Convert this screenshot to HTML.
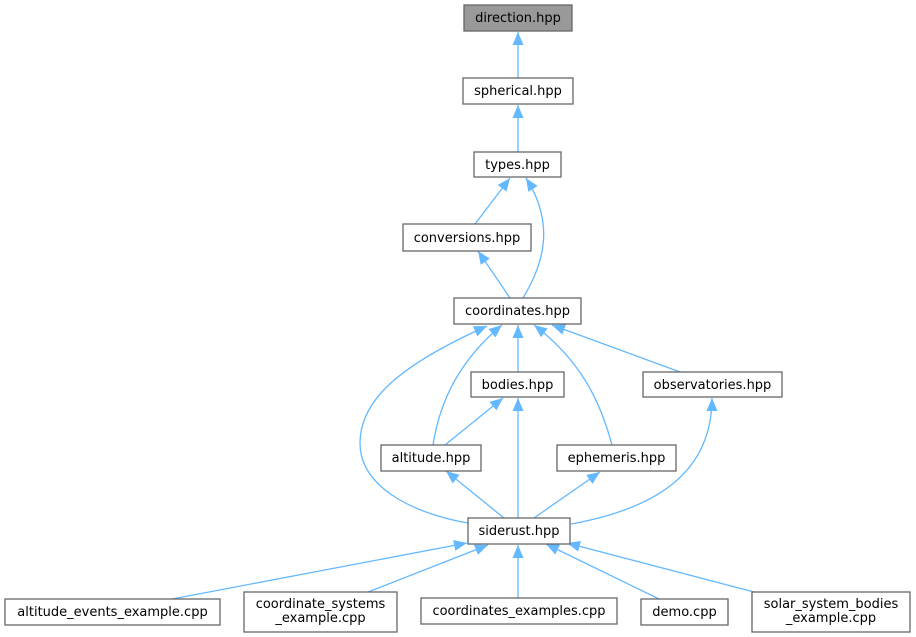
<!DOCTYPE html>
<html><head><meta charset="utf-8"><style>
html,body{margin:0;padding:0;background:#fff;}
svg{display:block;}
text{font-family:"DejaVu Sans","Liberation Sans",sans-serif;font-size:13px;fill:#000;text-anchor:middle;}
.e{fill:none;stroke:#63b8ff;stroke-width:1.3;}
.n{fill:#fff;stroke:#666;stroke-width:1.3;}
</style></head><body>
<svg width="916" height="637" viewBox="0 0 916 637" xmlns="http://www.w3.org/2000/svg">
<defs>
<marker id="a" markerUnits="userSpaceOnUse" markerWidth="14" markerHeight="12" refX="13" refY="5.5" orient="auto">
<path d="M0,0 L13,5.5 L0,11 z" fill="#63b8ff"/>
</marker>
</defs>
<g marker-end="url(#a)">
<path class="e" d="M518,78 L518,32"/>
<path class="e" d="M518,152 L518,105"/>
<path class="e" d="M475,224 L510,178"/>
<path class="e" d="M523,298 C543,265 556,225 526,178"/>
<path class="e" d="M510,298 L478,251"/>
<path class="e" d="M518,372 L518,325"/>
<path class="e" d="M433,445 C440,400 460,360 502,325"/>
<path class="e" d="M612,445 C600,400 580,360 534,325"/>
<path class="e" d="M680,372 L552,325"/>
<path class="e" d="M468,523 C420,515 360,490 360,443 C360,400 400,365 487,326"/>
<path class="e" d="M445,445 L503,398"/>
<path class="e" d="M518,518 L518,398"/>
<path class="e" d="M504,518 L446,471"/>
<path class="e" d="M534,518 L600,472"/>
<path class="e" d="M571,524 C660,508 712,470 712,398"/>
<path class="e" d="M172,599 L467,543"/>
<path class="e" d="M368,592 L488,545"/>
<path class="e" d="M518,598 L518,545"/>
<path class="e" d="M659,599 L546,544"/>
<path class="e" d="M754,592 L567,543"/>
</g>
<rect x="464" y="5" width="108" height="26" fill="#999" stroke="#666" stroke-width="1.3"/>
<text x="518" y="22">direction.hpp</text>
<rect class="n" x="463" y="78" width="110" height="26"/>
<text x="518" y="95">spherical.hpp</text>
<rect class="n" x="474" y="152" width="87" height="25"/>
<text x="517.5" y="169">types.hpp</text>
<rect class="n" x="403" y="224" width="128" height="27"/>
<text x="467" y="242">conversions.hpp</text>
<rect class="n" x="454" y="298" width="127" height="26"/>
<text x="517.5" y="315">coordinates.hpp</text>
<rect class="n" x="471" y="372" width="93" height="25"/>
<text x="517.5" y="389">bodies.hpp</text>
<rect class="n" x="643" y="372" width="139" height="25"/>
<text x="712.5" y="389">observatories.hpp</text>
<rect class="n" x="381" y="445" width="100" height="26"/>
<text x="431" y="462">altitude.hpp</text>
<rect class="n" x="557" y="445" width="119" height="26"/>
<text x="616.5" y="462">ephemeris.hpp</text>
<rect class="n" x="468" y="518" width="102" height="26"/>
<text x="519" y="535">siderust.hpp</text>
<rect class="n" x="5" y="599" width="215" height="26"/>
<text x="112.5" y="616">altitude_events_example.cpp</text>
<rect class="n" x="244" y="592" width="153" height="40"/>
<text x="320.5" y="608">coordinate_systems</text>
<text x="320.5" y="622">_example.cpp</text>
<rect class="n" x="421" y="598" width="196" height="26"/>
<text x="519" y="615">coordinates_examples.cpp</text>
<rect class="n" x="641" y="599" width="87" height="26"/>
<text x="684.5" y="616">demo.cpp</text>
<rect class="n" x="752" y="592" width="158" height="40"/>
<text x="831" y="608">solar_system_bodies</text>
<text x="831" y="622">_example.cpp</text>
</svg>
</body></html>
